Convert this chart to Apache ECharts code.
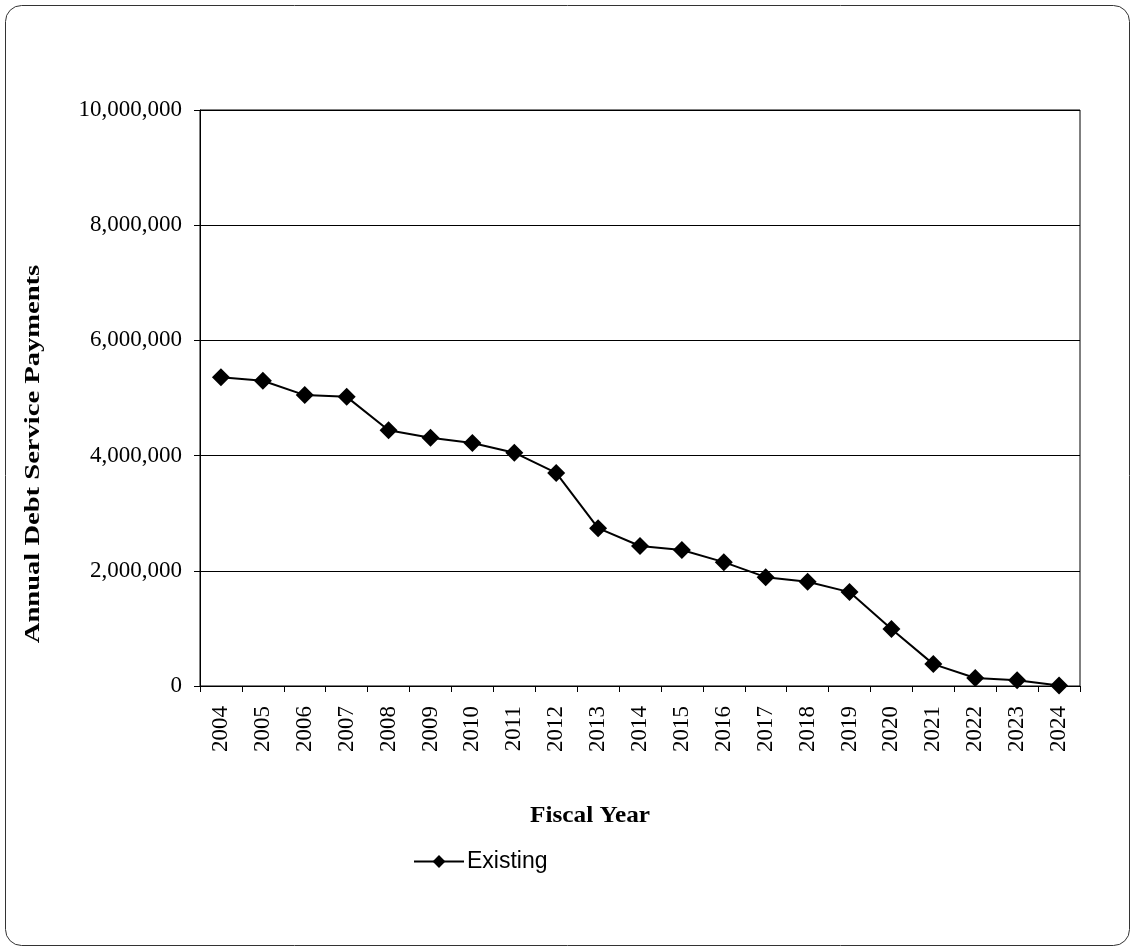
<!DOCTYPE html>
<html>
<head>
<meta charset="utf-8">
<script src="https://cdn.jsdelivr.net/npm/echarts@6/dist/echarts.min.js"></script>
<style>
  html, body { margin: 0; padding: 0; background: #fff; }
  #chart { width: 1134px; height: 951px; }
</style>
</head>
<body>
<div id="chart"></div>
<script>
// Fiscal years on the category axis
const years = ['2004','2005','2006','2007','2008','2009','2010','2011','2012','2013','2014',
               '2015','2016','2017','2018','2019','2020','2021','2022','2023','2024'];

// Annual debt service payments for existing debt
const existing = [5360000, 5300000, 5050000, 5020000, 4440000, 4310000, 4220000, 4050000,
                  3700000, 2740000, 2430000, 2360000, 2150000, 1890000, 1810000, 1630000,
                  990000, 380000, 140000, 100000, 10000];

// Value axis ticks
const yMin = 0, yMax = 10000000, yStep = 2000000;

const serif = '"Liberation Serif", "Times New Roman", serif';

const chart = echarts.init(document.getElementById('chart'), null, { renderer: 'canvas' });

chart.setOption({
  backgroundColor: '#fff',
  animation: false,
  graphic: [
    {
      // rounded frame around the whole chart
      type: 'rect',
      shape: { x: 5.5, y: 5.5, width: 1124, height: 940, r: 16 },
      style: { fill: 'none', stroke: '#333', lineWidth: 1 },
      silent: true
    },
    {
      // value axis title, set vertically and stretched along its length
      type: 'text',
      x: 34, y: 454,
      rotation: Math.PI / 2,
      scaleX: 1.36,
      style: {
        text: 'Annual Debt Service Payments',
        font: 'bold 21px ' + serif,
        fill: '#000',
        align: 'center',
        verticalAlign: 'middle'
      },
      silent: true
    },
    {
      // category axis title
      type: 'text',
      x: 590, y: 816,
      scaleX: 1.1,
      style: {
        text: 'Fiscal Year',
        font: 'bold 23px ' + serif,
        fill: '#000',
        align: 'center',
        verticalAlign: 'middle'
      },
      silent: true
    }
  ],
  grid: {
    left: 200, right: 54, top: 110, bottom: 265,
    show: true, borderColor: '#000', borderWidth: 1, backgroundColor: 'transparent'
  },
  legend: {
    data: ['Existing'],
    left: 408, top: 845,
    itemWidth: 50, itemHeight: 16, itemGap: 10,
    textStyle: { fontFamily: '"Liberation Sans", Arial, sans-serif', fontSize: 23, color: '#000', padding: [0, 0, 0, -2] }
  },
  xAxis: {
    type: 'category',
    data: years,
    boundaryGap: true,
    axisLine: { lineStyle: { color: '#000', width: 1 } },
    axisTick: { show: true, alignWithLabel: false, length: 6, inside: false, lineStyle: { color: '#000' } },
    axisLabel: { rotate: 90, fontFamily: serif, fontSize: 23, color: '#000', margin: 20, interval: 0 },
    splitLine: { show: false }
  },
  yAxis: {
    type: 'value',
    min: yMin, max: yMax, interval: yStep,
    axisLine: { show: true, lineStyle: { color: '#000', width: 1 } },
    axisTick: { show: true, length: 6, lineStyle: { color: '#000' } },
    axisLabel: {
      fontFamily: serif, fontSize: 23, color: '#000', margin: 18,
      formatter: v => v.toLocaleString('en-US')
    },
    splitLine: { show: true, lineStyle: { color: '#000', width: 1 } }
  },
  series: [{
    name: 'Existing',
    type: 'line',
    data: existing,
    symbol: 'diamond',
    symbolSize: 18,
    itemStyle: { color: '#000' },
    lineStyle: { color: '#000', width: 2 }
  }]
});
</script>
</body>
</html>
